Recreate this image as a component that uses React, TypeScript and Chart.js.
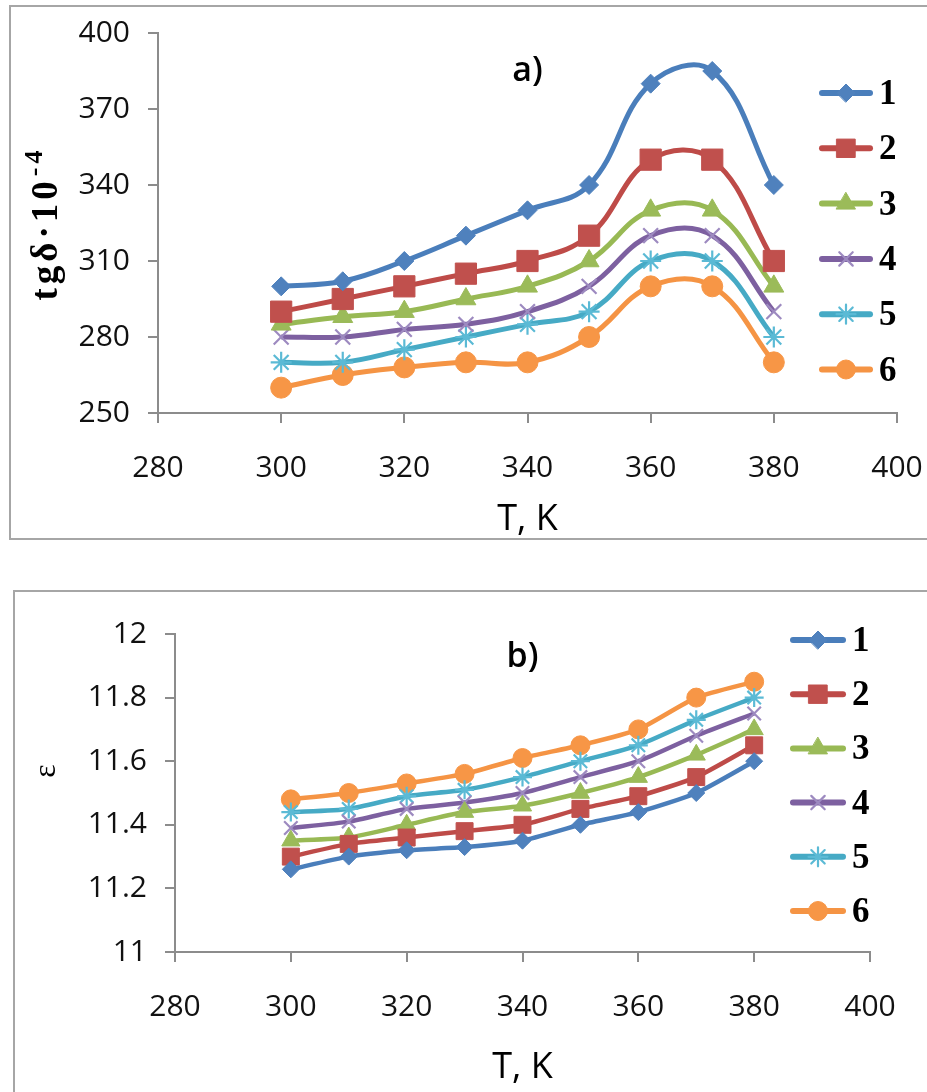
import React, { useEffect, useRef } from 'react';
import { Chart, registerables } from 'chart.js';
import { drawPoint } from 'chart.js/helpers';

Chart.register(...registerables);

// ---------- data ----------
const temperatures = [300, 310, 320, 330, 340, 350, 360, 370, 380];
const seriesLabels = ['1', '2', '3', '4', '5', '6'];

// panel a) tg delta * 10^-4
const tgd1 = [300, 302, 310, 320, 330, 340, 380, 385, 340];
const tgd2 = [290, 295, 300, 305, 310, 320, 350, 350, 310];
const tgd3 = [285, 288, 290, 295, 300, 310, 330, 330, 300];
const tgd4 = [280, 280, 283, 285, 290, 300, 320, 320, 290];
const tgd5 = [270, 270, 275, 280, 285, 290, 310, 310, 280];
const tgd6 = [260, 265, 268, 270, 270, 280, 300, 300, 270];

// panel b) epsilon
const eps1 = [11.26, 11.3, 11.32, 11.33, 11.35, 11.4, 11.44, 11.5, 11.6];
const eps2 = [11.3, 11.34, 11.36, 11.38, 11.4, 11.45, 11.49, 11.55, 11.65];
const eps3 = [11.35, 11.36, 11.4, 11.44, 11.46, 11.5, 11.55, 11.62, 11.7];
const eps4 = [11.39, 11.41, 11.45, 11.47, 11.5, 11.55, 11.6, 11.68, 11.75];
const eps5 = [11.44, 11.45, 11.49, 11.51, 11.55, 11.6, 11.65, 11.73, 11.8];
const eps6 = [11.48, 11.5, 11.53, 11.56, 11.61, 11.65, 11.7, 11.8, 11.85];

const xMin = 280;
const xMax = 400;
const xStep = 20;
const tgMin = 250;
const tgMax = 400;
const tgStep = 30;
const epsMin = 11;
const epsMax = 12;
const epsStep = 0.2;

const xTitle = 'T, K';
const tgTitleMain = 'tgδ·10';
const tgTitleSup = '-4';
const epsTitle = 'ε';

// ---------- styles ----------
const lineColors = ['#4A7EBB', '#BE4B48', '#98B954', '#7D60A0', '#46AAC5', '#F59444'];
const markerColors = ['#4F81BD', '#C0504D', '#9BBB59', '#9D8AC0', '#5BBAD5', '#F79646'];
const pointStyles = ['rectRot', 'rect', 'triangle', 'crossRot', 'star', 'circle'];
const radiiA = [9.5, 15, 11.5, 10.5, 10.5, 10.5];
const radiiB = [8.5, 12, 10.5, 9.5, 9.5, 9.5];

const sansFamily = '"Open Sans", "Liberation Sans", sans-serif';
const serifFamily = '"Liberation Serif", "Times New Roman", serif';
const tickFont = { family: sansFamily, size: 30 };
const axisColor = '#8c8c8c';

function formatTick(v: number) {
  return String(Number(v.toFixed(1)));
}

function makeDatasets(series: number[][], radii: number[], width: number, tension: number) {
  return series.map((vals, i) => ({
    label: seriesLabels[i],
    data: temperatures.map((t, j) => ({ x: t, y: vals[j] })),
    borderColor: lineColors[i],
    backgroundColor: markerColors[i],
    borderWidth: width,
    tension,
    pointStyle: pointStyles[i],
    pointRadius: radii[i],
    pointBackgroundColor: markerColors[i],
    pointBorderColor: markerColors[i],
    pointBorderWidth: i === 3 || i === 4 ? 2.2 : 1,
    fill: false,
  }));
}

function legendPlugin(cfg: { x: number; top: number; gap: number; len: number; radii: number[] }) {
  return {
    id: 'customLegend',
    afterDraw(chart: any) {
      const ctx = chart.ctx;
      chart.data.datasets.forEach((ds: any, i: number) => {
        const y = cfg.top + i * cfg.gap;
        ctx.save();
        ctx.strokeStyle = ds.borderColor;
        ctx.lineWidth = 6;
        ctx.lineCap = 'round';
        ctx.beginPath();
        ctx.moveTo(cfg.x, y);
        ctx.lineTo(cfg.x + cfg.len, y);
        ctx.stroke();
        ctx.fillStyle = markerColors[i];
        ctx.strokeStyle = markerColors[i];
        ctx.lineWidth = i === 3 || i === 4 ? 2.2 : 1;
        drawPoint(
          ctx,
          { pointStyle: pointStyles[i], radius: cfg.radii[i], rotation: 0, borderWidth: ctx.lineWidth } as any,
          cfg.x + cfg.len / 2,
          y
        );
        ctx.fillStyle = '#000';
        ctx.font = `bold 35px ${serifFamily}`;
        ctx.textBaseline = 'middle';
        ctx.textAlign = 'left';
        ctx.fillText(ds.label, cfg.x + cfg.len + 9, y + 2);
        ctx.restore();
      });
    },
  };
}

function panelLabelPlugin(text: string, dy: number) {
  return {
    id: 'panelLabel',
    afterDraw(chart: any) {
      const { ctx, chartArea } = chart;
      ctx.save();
      ctx.fillStyle = '#000';
      ctx.font = `600 34px ${sansFamily}`;
      ctx.textAlign = 'center';
      ctx.textBaseline = 'middle';
      ctx.fillText(text, (chartArea.left + chartArea.right) / 2, chartArea.top + dy);
      ctx.restore();
    },
  };
}

// rotated y-axis title with optional superscript part
function sideTitlePlugin(
  main: string,
  sup: string,
  x: number,
  dy: number,
  font: string,
  supFont: string,
  spacing: number
) {
  return {
    id: 'sideTitle',
    afterDraw(chart: any) {
      const { ctx, chartArea } = chart;
      ctx.save();
      ctx.translate(x, (chartArea.top + chartArea.bottom) / 2 + dy);
      ctx.rotate(-Math.PI / 2);
      ctx.fillStyle = '#000';
      ctx.textBaseline = 'middle';
      ctx.textAlign = 'left';
      (ctx as any).letterSpacing = `${spacing}px`;
      ctx.font = font;
      const wMain = ctx.measureText(main).width;
      ctx.font = supFont;
      const wSup = sup ? ctx.measureText(sup).width + 2 : 0;
      const start = -(wMain + wSup) / 2;
      ctx.font = font;
      ctx.fillText(main, start, 0);
      if (sup) {
        ctx.font = supFont;
        ctx.fillText(sup, start + wMain + 1, -12);
      }
      ctx.restore();
    },
  };
}

function makeConfig(opts: {
  series: number[][];
  radii: number[];
  lineWidth: number;
  tension: number;
  yMin: number;
  yMax: number;
  yStep: number;
  yWidth: number;
  xHeight: number;
  padTop: number;
  padRight: number;
  xTickPad: number;
  xTitlePad: number;
  plugins: any[];
}): any {
  return {
    type: 'line',
    data: { datasets: makeDatasets(opts.series, opts.radii, opts.lineWidth, opts.tension) },
    options: {
      animation: false,
      responsive: false,
      events: [],
      layout: { padding: { top: opts.padTop, right: opts.padRight, left: 0, bottom: 0 } },
      plugins: { legend: { display: false }, tooltip: { enabled: false } },
      scales: {
        x: {
          type: 'linear',
          min: xMin,
          max: xMax,
          ticks: { stepSize: xStep, font: tickFont, color: '#111', padding: opts.xTickPad, maxRotation: 0 },
          grid: { display: true, drawOnChartArea: false, drawTicks: true, tickLength: 10, color: axisColor, lineWidth: 2 },
          border: { display: true, color: axisColor, width: 2 },
          title: {
            display: true,
            text: xTitle,
            font: { family: sansFamily, size: 36 },
            color: '#000',
            padding: { top: 0, bottom: opts.xTitlePad },
          },
          afterFit(scale: any) {
            scale.height = opts.xHeight;
            scale.paddingLeft = 0;
            scale.paddingRight = 0;
          },
        },
        y: {
          type: 'linear',
          min: opts.yMin,
          max: opts.yMax,
          ticks: { stepSize: opts.yStep, font: tickFont, color: '#111', padding: 18, callback: (v: number) => formatTick(v) },
          grid: { display: true, drawOnChartArea: false, drawTicks: true, tickLength: 10, color: axisColor, lineWidth: 2 },
          border: { display: true, color: axisColor, width: 2 },
          afterFit(scale: any) {
            scale.width = opts.yWidth;
            scale.paddingTop = 0;
            scale.paddingBottom = 0;
          },
        },
      },
    },
    plugins: opts.plugins,
  };
}

function ChartCanvas({ config, width, height }: { config: () => any; width: number; height: number }) {
  const ref = useRef<HTMLCanvasElement | null>(null);
  useEffect(() => {
    if (!ref.current) return;
    const chart = new Chart(ref.current, config());
    return () => chart.destroy();
  }, []);
  return <canvas ref={ref} width={width} height={height} style={{ display: 'block', width, height }} />;
}

export default function App() {
  const configA = () =>
    makeConfig({
      series: [tgd1, tgd2, tgd3, tgd4, tgd5, tgd6],
      radii: radiiA,
      lineWidth: 5,
      tension: 0.4,
      yMin: tgMin,
      yMax: tgMax,
      yStep: tgStep,
      yWidth: 158,
      xHeight: 132,
      padTop: 33,
      padRight: 30,
      xTickPad: 27,
      xTitlePad: 4,
      plugins: [
        legendPlugin({ x: 822, top: 93, gap: 55.3, len: 48, radii: [9, 13, 11, 9.5, 9.5, 9.5] }),
        panelLabelPlugin('a)', 38),
        sideTitlePlugin(tgTitleMain, tgTitleSup, 47, 0, `bold 37px ${serifFamily}`, `bold 26px ${serifFamily}`, 4),
      ],
    });
  const configB = () =>
    makeConfig({
      series: [eps1, eps2, eps3, eps4, eps5, eps6],
      radii: radiiB,
      lineWidth: 4.5,
      tension: 0.2,
      yMin: epsMin,
      yMax: epsMax,
      yStep: epsStep,
      yWidth: 175,
      xHeight: 140,
      padTop: 54,
      padRight: 57,
      xTickPad: 27,
      xTitlePad: 3,
      plugins: [
        legendPlugin({ x: 793, top: 60, gap: 54.2, len: 50, radii: [9, 13, 11, 9.5, 9.5, 9.5] }),
        panelLabelPlugin('b)', 23),
        sideTitlePlugin(epsTitle, '', 47, -22, `32px ${serifFamily}`, `20px ${serifFamily}`, 0),
      ],
    });

  return (
    <div style={{ position: 'fixed', left: 0, top: 0, width: 927, height: 1092, overflow: 'hidden', background: '#fff' }}>
      <div
        style={{
          position: 'absolute',
          left: 9,
          top: 5,
          width: 940,
          height: 535,
          border: '2px solid #a6a6a6',
          boxSizing: 'border-box',
        }}
      />
      <div
        style={{
          position: 'absolute',
          left: 13,
          top: 590,
          width: 940,
          height: 540,
          border: '2px solid #a6a6a6',
          boxSizing: 'border-box',
        }}
      />
      <div style={{ position: 'absolute', left: 0, top: 0 }}>
        <ChartCanvas config={configA} width={927} height={545} />
      </div>
      <div style={{ position: 'absolute', left: 0, top: 580 }}>
        <ChartCanvas config={configB} width={927} height={512} />
      </div>
    </div>
  );
}
